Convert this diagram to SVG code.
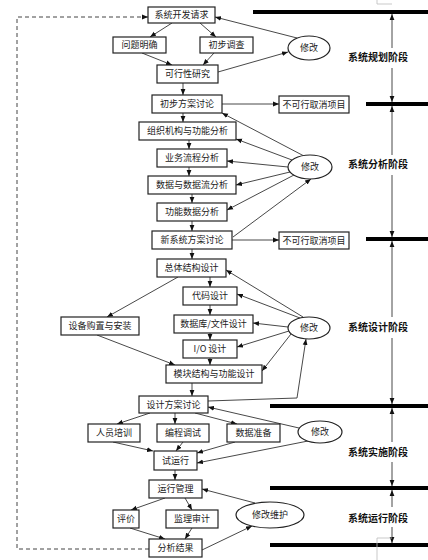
<svg xmlns="http://www.w3.org/2000/svg" width="428" height="560" viewBox="0 0 428 560">
<style>
.b{fill:#fff;stroke:#222;stroke-width:1.2}
.t{font-family:"Noto Sans CJK SC","Liberation Sans",sans-serif;font-size:9px;fill:#222;text-anchor:middle}
.p{font-family:"Noto Sans CJK SC","Liberation Sans",sans-serif;font-size:10px;font-weight:bold;fill:#111;text-anchor:middle}
.c{fill:none;stroke:#333;stroke-width:0.9;marker-end:url(#a)}
.d{fill:none;stroke:#444;stroke-width:1;stroke-dasharray:4,3;marker-end:url(#a)}
.bar{stroke:#000;stroke-width:4}
.g{fill:none;stroke:#bbb;stroke-width:0.8}
</style>
<defs>
<marker id="a" viewBox="0 0 10 10" refX="10" refY="5" markerWidth="6" markerHeight="6" orient="auto" markerUnits="userSpaceOnUse"><path d="M0,1 L10,5 L0,9 z" fill="#111"/></marker>
</defs>
<rect width="428" height="560" fill="#fff"/>
<g id="phases">
<path class="bar" d="M253,12 H428 M366,104 H428 M366,239 H428 M270,406 H428 M270,488 H428 M270,545 H428"/>
<path class="c" d="M392,48 V14"/>
<path class="c" d="M392,68 V102"/>
<path class="c" d="M392,155 V106"/>
<path class="c" d="M392,175 V237"/>
<path class="c" d="M392,317 V241"/>
<path class="c" d="M392,338 V404"/>
<path class="c" d="M392,442 V408"/>
<path class="c" d="M392,462 V486"/>
<path class="c" d="M392,507 V490"/>
<path class="c" d="M392,527 V543"/>
<text class="p" x="378" y="61">系统规划阶段</text>
<text class="p" x="378" y="168">系统分析阶段</text>
<text class="p" x="378" y="331">系统设计阶段</text>
<text class="p" x="378" y="456">系统实施阶段</text>
<text class="p" x="378" y="522">系统运行阶段</text>
<path class="g" d="M377,0 V4 H392 M392,538 H377 V560"/>
</g>
<g id="connectors">
<path class="d" d="M149,549 H17 V17 H148"/>
<path class="c" d="M172,23 L150,37"/>
<path class="c" d="M200,23 L216,37"/>
<path class="c" d="M142,53 L172,65"/>
<path class="c" d="M214,53 L203,65"/>
<path class="c" d="M218,72 L288,52"/>
<path class="c" d="M297,38 L215,17"/>
<path class="c" d="M183,83 V95"/>
<path class="c" d="M222,104 H279"/>
<path class="c" d="M183,113 V122"/>
<path class="c" d="M189,140 V149"/>
<path class="c" d="M189,167 V176"/>
<path class="c" d="M192,194 V203"/>
<path class="c" d="M192,221 V231"/>
<path class="c" d="M232,240 H279"/>
<path class="c" d="M233,237 L311,179"/>
<path class="c" d="M304,156 L222,113"/>
<path class="c" d="M292,160 L236,139"/>
<path class="c" d="M288,167 L227,161"/>
<path class="c" d="M290,172 L236,185"/>
<path class="c" d="M294,175 L227,210"/>
<path class="c" d="M192,249 V259"/>
<path class="c" d="M210,277 V287"/>
<path class="c" d="M210,305 V315"/>
<path class="c" d="M210,333 V340"/>
<path class="c" d="M210,358 V365"/>
<path class="c" d="M178,277 L107,317"/>
<path class="c" d="M97,335 L175,365"/>
<path class="c" d="M303,317 L226,270"/>
<path class="c" d="M300,318 L237,294"/>
<path class="c" d="M288,327 L253,323"/>
<path class="c" d="M289,331 L237,347"/>
<path class="c" d="M291,334 L262,371"/>
<path class="c" d="M208,401 L297,398 L306,339"/>
<path class="c" d="M192,383 V396"/>
<path class="c" d="M150,413 L117,424"/>
<path class="c" d="M175,413 V424"/>
<path class="c" d="M195,413 L237,424"/>
<path class="c" d="M113,442 L153,451"/>
<path class="c" d="M183,442 L176,451"/>
<path class="c" d="M235,442 L197,453"/>
<path class="c" d="M299,428 L208,407"/>
<path class="c" d="M308,441 L197,463"/>
<path class="c" d="M175,470 V480"/>
<path class="c" d="M165,498 L131,510"/>
<path class="c" d="M185,498 L192,510"/>
<path class="c" d="M130,528 L165,539"/>
<path class="c" d="M192,528 L185,539"/>
<path class="c" d="M255,503 L202,489"/>
<path class="c" d="M202,550 L252,526"/>
</g>
<g id="n1"><rect class="b" x="148" y="7" width="67" height="16"/><text class="t" x="181.5" y="18">系统开发请求</text></g>
<g id="n2"><rect class="b" x="113" y="37" width="53" height="16"/><text class="t" x="139.5" y="48">问题明确</text></g>
<g id="n3"><rect class="b" x="200" y="37" width="53" height="16"/><text class="t" x="226.5" y="48">初步调查</text></g>
<g id="n4"><rect class="b" x="157" y="65" width="61" height="18"/><text class="t" x="187.5" y="77">可行性研究</text></g>
<g id="m1"><ellipse class="b" cx="309" cy="48" rx="21" ry="12"/><text class="t" x="309" y="51">修改</text></g>
<g id="n5"><rect class="b" x="152" y="95" width="70" height="18"/><text class="t" x="187" y="107">初步方案讨论</text></g>
<g id="x1"><rect class="b" x="279" y="96" width="70" height="17"/><text class="t" x="314" y="107.5">不可行取消项目</text></g>
<g id="n6"><rect class="b" x="139" y="122" width="97" height="18"/><text class="t" x="187.5" y="134">组织机构与功能分析</text></g>
<g id="n7"><rect class="b" x="157" y="149" width="70" height="18"/><text class="t" x="192" y="161">业务流程分析</text></g>
<g id="n8"><rect class="b" x="148" y="176" width="88" height="18"/><text class="t" x="192" y="188">数据与数据流分析</text></g>
<g id="n9"><rect class="b" x="157" y="203" width="70" height="18"/><text class="t" x="192" y="215">功能数据分析</text></g>
<g id="n10"><rect class="b" x="152" y="231" width="80" height="18"/><text class="t" x="192" y="243">新系统方案讨论</text></g>
<g id="x2"><rect class="b" x="279" y="232" width="70" height="17"/><text class="t" x="314" y="243.5">不可行取消项目</text></g>
<g id="m2"><ellipse class="b" cx="310" cy="167" rx="22" ry="12"/><text class="t" x="310" y="170">修改</text></g>
<g id="n11"><rect class="b" x="157" y="259" width="69" height="18"/><text class="t" x="191.5" y="271">总体结构设计</text></g>
<g id="n12"><rect class="b" x="183" y="287" width="54" height="18"/><text class="t" x="210" y="299">代码设计</text></g>
<g id="n13"><rect class="b" x="174" y="315" width="79" height="18"/><text class="t" x="213.5" y="327">数据库/文件设计</text></g>
<g id="n14"><rect class="b" x="183" y="340" width="54" height="18"/><text class="t" x="210" y="352">I/O 设计</text></g>
<g id="n15"><rect class="b" x="166" y="365" width="96" height="18"/><text class="t" x="214" y="377">模块结构与功能设计</text></g>
<g id="n16"><rect class="b" x="61" y="317" width="78" height="18"/><text class="t" x="100" y="329">设备购置与安装</text></g>
<g id="m3"><ellipse class="b" cx="309" cy="328" rx="21" ry="11"/><text class="t" x="309" y="331">修改</text></g>
<g id="n17"><rect class="b" x="139" y="396" width="69" height="17"/><text class="t" x="173.5" y="407.5">设计方案讨论</text></g>
<g id="n18"><rect class="b" x="88" y="424" width="52" height="18"/><text class="t" x="114" y="436">人员培训</text></g>
<g id="n19"><rect class="b" x="157" y="424" width="52" height="18"/><text class="t" x="183" y="436">编程调试</text></g>
<g id="n20"><rect class="b" x="227" y="424" width="53" height="18"/><text class="t" x="253.5" y="436">数据准备</text></g>
<g id="m4"><ellipse class="b" cx="320" cy="432" rx="22" ry="11"/><text class="t" x="320" y="435">修改</text></g>
<g id="n21"><rect class="b" x="154" y="451" width="43" height="19"/><text class="t" x="175.5" y="463.5">试运行</text></g>
<g id="n22"><rect class="b" x="149" y="480" width="53" height="18"/><text class="t" x="175.5" y="492">运行管理</text></g>
<g id="n23"><rect class="b" x="113" y="510" width="26" height="18"/><text class="t" x="126" y="522">评价</text></g>
<g id="n24"><rect class="b" x="166" y="510" width="52" height="18"/><text class="t" x="192" y="522">监理审计</text></g>
<g id="n25"><rect class="b" x="149" y="539" width="53" height="18"/><text class="t" x="175.5" y="551">分析结果</text></g>
<g id="m5"><ellipse class="b" cx="270" cy="515" rx="34" ry="13"/><text class="t" x="270" y="518">修改维护</text></g>
</svg>
